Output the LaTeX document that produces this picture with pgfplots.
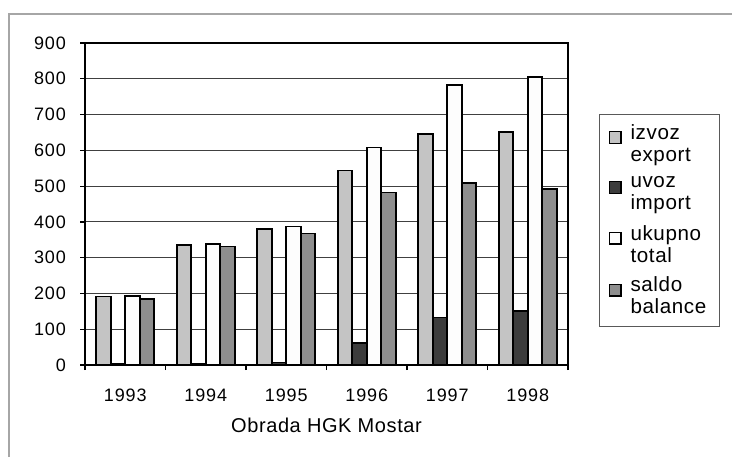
\documentclass[border=0pt]{standalone}
\usepackage{pgfplots}
\pgfplotsset{compat=1.18}
\usepackage{fontspec}
\setmainfont{Liberation Sans}
\newfontfamily\tickfont[LetterSpace=5]{Liberation Sans}
\newfontfamily\labfont[LetterSpace=3]{Liberation Sans}
\definecolor{cIzvoz}{HTML}{C4C4C4}
\definecolor{cUvoz}{HTML}{3C3C3C}
\definecolor{cUkupno}{HTML}{FDFDFD}
\definecolor{cSaldo}{HTML}{8E8E8E}
\begin{document}
\begin{tikzpicture}
\useasboundingbox (0pt,0pt) rectangle (366pt,228.5pt);
\draw[gray!70, line width=0.7pt] (4.5pt,0pt) -- (4.5pt,221.5pt) -- (366pt,221.5pt);
\begin{axis}[
  at={(42.5pt,46pt)}, anchor=south west,
  scale only axis, width=241.5pt, height=161pt,
  ybar=0pt, bar width=0.18,
  xmin=-0.5, xmax=5.5, ymin=0, ymax=900,
  xtick={0,1,2,3,4,5},
  xticklabels={1993,1994,1995,1996,1997,1998},
  minor xtick={-0.5,0.5,1.5,2.5,3.5,4.5,5.5},
  major x tick style={draw=none},
  minor tick length=2.5pt,
  ytick={0,100,...,900},
  major tick length=2.5pt,
  tick align=outside,
  xtick pos=bottom, ytick pos=left,
  ymajorgrids,
  major grid style={gray!50!black, line width=0.5pt},
  axis line style={black, line width=0.9pt},
  every tick/.style={black, line width=0.6pt},
  tick label style={font=\tickfont\fontsize{9}{10.8}\selectfont},
  /pgf/number format/assume math mode=true,
  yticklabel style={xshift=-3.5pt},
  xticklabel style={yshift=-6pt},
  xlabel={Obrada HGK Mostar},
  xlabel style={font=\labfont\fontsize{10}{12}\selectfont, yshift=-1pt},
  legend style={at={(rel axis cs:1.064,0.78)}, anchor=north west,
    draw=gray!70!black, line width=0.5pt,
    font=\labfont\fontsize{10.3}{11}\selectfont,
    cells={align=left, anchor=west},
    column sep=2.5pt,
    row sep=2pt, inner xsep=4.5pt, inner ysep=3pt},
  legend image code/.code={\path (0pt,-11pt); \draw[#1, draw=black, line width=0.7pt] (0pt,0.5pt) rectangle (5.8pt,6.3pt);},
  legend cell align=left,
]
\addplot[fill=cIzvoz, draw=black, line width=0.8pt] coordinates {(0,191) (1,336) (2,380) (3,544) (4,645) (5,651)};
\addplot[fill=cUvoz, draw=black, line width=0.8pt] coordinates {(0,3) (1,3) (2,7) (3,61) (4,133) (5,151)};
\addplot[fill=cUkupno, draw=black, line width=0.8pt] coordinates {(0,193) (1,339) (2,387) (3,608) (4,782) (5,805)};
\addplot[fill=cSaldo, draw=black, line width=0.8pt] coordinates {(0,185) (1,331) (2,368) (3,482) (4,508) (5,492)};
\addlegendentry{izvoz\\export}
\addlegendentry{uvoz\\import}
\addlegendentry{ukupno\\total}
\addlegendentry{saldo\\balance}
\end{axis}
\end{tikzpicture}
\end{document}
